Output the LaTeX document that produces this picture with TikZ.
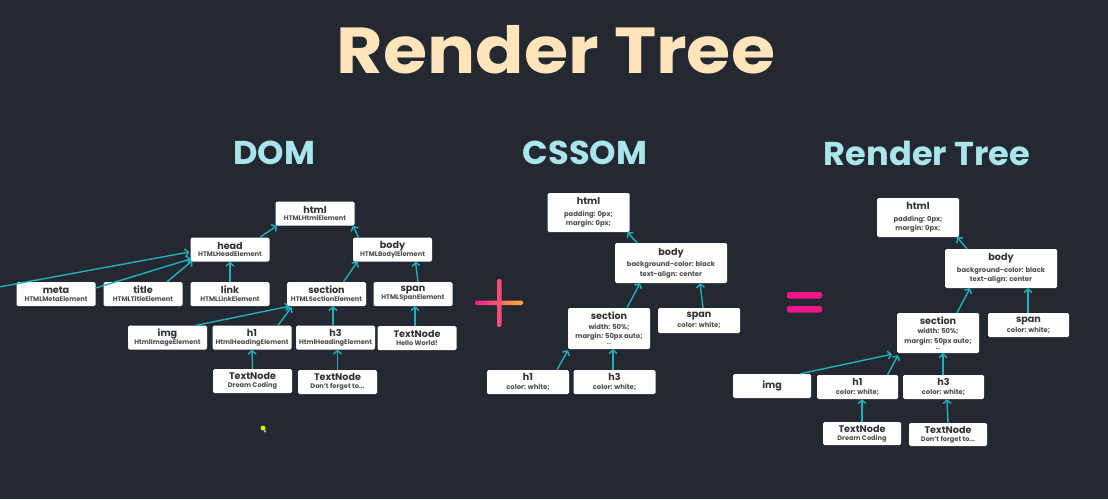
\documentclass[tikz,border=0pt]{standalone}
\usepackage{fontspec}
\setmainfont{Poppins}
\usetikzlibrary{arrows.meta,calc}

\definecolor{bg}{RGB}{36,40,48}
\definecolor{peach}{RGB}{255,228,188}
\definecolor{aqua}{RGB}{168,230,236}
\definecolor{linkteal}{RGB}{30,178,190}
\definecolor{ink}{RGB}{50,50,56}
\definecolor{inksub}{RGB}{75,75,82}
\definecolor{eqpink}{RGB}{240,22,140}
\definecolor{plusmag}{RGB}{245,20,150}
\definecolor{plusorange}{RGB}{255,180,50}
\definecolor{plusred}{RGB}{250,75,120}

% box texts: a heading line and smaller detail lines
\newcommand\boxhead[1]{{\fontsize{9.6}{10}\selectfont #1}}
\newcommand\boxline[1]{{\color{inksub}#1}}

\begin{document}
\begin{tikzpicture}[x=1pt,y=-1pt,
  box/.style={fill=white, rounded corners=1.5pt, inner sep=0pt, align=center,
              text=ink, font=\bfseries},
  dombox/.style={box, minimum width=79pt, minimum height=24pt,
                 font=\bfseries\fontsize{6.6}{7.8}\selectfont},
  cssbox/.style={box, minimum width=82pt,
                 font=\bfseries\fontsize{6.8}{9.6}\selectfont},
  arr/.style={draw=linkteal, line width=1.4pt,
              -{Straight Barb[length=3.4pt,width=8pt]}},
  heading/.style={font=\bfseries\fontsize{33}{35}\selectfont, text=aqua, xscale=1.02},
]
% backdrop and page size
\fill[bg] (0,0) rectangle (1108,499);
\useasboundingbox (0,0) rectangle (1108,499);

% titles
\node[font=\bfseries\fontsize{65}{67}\selectfont, text=peach, xscale=1.1] (title) at (556,50) {Render Tree};
\node[heading] (tdom) at (274,153) {DOM};
\node[heading] (tcss) at (585,153) {CSSOM};
\node[heading] (trt) at (927,153) {Render Tree};

% ---------------- DOM ----------------
\node[dombox] (dhtml) at (315,213.5) {\boxhead{html}\\\boxline{HTMLHtmlElement}};
\node[dombox] (dhead) at (230,249.5) {\boxhead{head}\\\boxline{HTMLHeadElement}};
\node[dombox] (dbody) at (392.5,249.5) {\boxhead{body}\\\boxline{HTMLBodylElement}};
\node[dombox] (dmeta) at (56,294) {\boxhead{meta}\\\boxline{HTMLMetaElement}};
\node[dombox] (dtitle) at (143,294) {\boxhead{title}\\\boxline{HTMLTitleElement}};
\node[dombox] (dlink) at (230,294) {\boxhead{link}\\\boxline{HTMLLinkElement}};
\node[dombox] (dsection) at (326.5,294) {\boxhead{section}\\\boxline{HTMLSectionElement}};
\node[dombox] (dspan) at (413,294) {\boxhead{span}\\\boxline{HTMLSpanElement}};
\node[dombox] (dimg) at (167.5,337.5) {\boxhead{img}\\\boxline{HtmlImageElement}};
\node[dombox] (dh1) at (252,337.5) {\boxhead{h1}\\\boxline{HtmlHeadingElement}};
\node[dombox] (dh3) at (335.5,337.5) {\boxhead{h3}\\\boxline{HtmlHeadingElement}};
\node[dombox] (dthello) at (417,338) {\boxhead{TextNode}\\\boxline{Hello World!}};
\node[dombox] (dtdream) at (252.5,381) {\boxhead{TextNode}\\\boxline{Dream Coding}};
\node[dombox] (dtforget) at (337.5,382) {\boxhead{TextNode}\\\boxline{Don’t forget to...}};
\coordinate (offleft) at (-1,287);

\draw[arr] ([xshift=30pt]dhead.north) -- ([xshift=-38pt]dhtml.south);
\draw[arr] ([xshift=-34pt]dbody.north) -- ([xshift=38pt]dhtml.south);
\draw[arr] (offleft) -- ([xshift=-1pt,yshift=-2.5pt]dhead.west);
\draw[arr] ([yshift=6pt]dmeta.east) -- ([xshift=1pt,yshift=3pt]dhead.south west);
\draw[arr] ([xshift=24pt]dtitle.north) -- ([xshift=2pt,yshift=1pt]dhead.south west);
\draw[arr] (dlink.north) -- (dhead.south);
\draw[arr] ([xshift=17pt]dsection.north) -- ([xshift=-35pt]dbody.south);
\draw[arr] ([xshift=5pt]dspan.north) -- ([xshift=23pt]dbody.south);
\draw[arr] ([xshift=29pt]dimg.north) -- ([xshift=-37pt]dsection.south);
\draw[arr] ([xshift=26pt]dh1.north) -- ([xshift=-35pt,yshift=-1pt]dsection.south);
\draw[arr] ([xshift=-2.5pt]dh3.north) -- ([xshift=6.5pt]dsection.south);
\draw[arr] ([xshift=-2pt]dthello.north) -- ([xshift=2pt]dspan.south);
\draw[arr] (dtdream.north) -- (dh1.south);
\draw[arr] (dtforget.north) -- ([xshift=2pt]dh3.south);

% ---------------- CSSOM ----------------
\node[cssbox, minimum height=39pt] (chtml) at (588.5,212.5)
  {\boxhead{html}\\[2pt]\boxline{padding: 0px;}\\\boxline{margin: 0px;}};
\node[cssbox, minimum width=112pt, minimum height=40pt] (cbody) at (671,263)
  {\boxhead{body}\\[2pt]\boxline{background-color: black}\\\boxline{text-align: center}};
\node[cssbox, minimum height=41pt] (csection) at (609,328.5)
  {\boxhead{section}\\\boxline{width: 50\%;}\\\boxline{margin: 50px auto;}\\[-3.5pt]\boxline{\fontsize{5}{5}\selectfont ...}};
\node[cssbox, minimum height=25pt] (cspan) at (699,320.5)
  {\boxhead{span}\\\boxline{color: white;}};
\node[cssbox, minimum height=24pt] (ch1) at (528,382)
  {\boxhead{h1}\\\boxline{color: white;}};
\node[cssbox, minimum height=24pt] (ch3) at (614.5,382)
  {\boxhead{h3}\\\boxline{color: white;}};

\draw[arr] ([xshift=-34pt]cbody.north) -- ([xshift=39pt]chtml.south);
\draw[arr] ([xshift=18pt]csection.north) -- ([xshift=-31pt]cbody.south);
\draw[arr] ([xshift=4pt]cspan.north) -- ([xshift=29pt]cbody.south);
\draw[arr] ([xshift=29pt]ch1.north) -- ([xshift=-41pt,yshift=-1pt]csection.south);
\draw[arr] ([xshift=-1.5pt]ch3.north) -- ([xshift=4pt]csection.south);

% plus sign
\fill[plusred, rounded corners=2pt] (497,279) rectangle (501.5,327);
\shade[left color=plusmag, right color=plusorange, rounded corners=2pt] (475,300.5) rectangle (523,305);
\fill[plusred, opacity=0.6] (497,300.5) rectangle (501.5,305);

% equals sign
\fill[eqpink, rounded corners=2pt] (787,292) rectangle (822,298.5);
\fill[eqpink, rounded corners=2pt] (787,306) rectangle (822,312.5);

% ---------------- Render Tree ----------------
\node[cssbox, minimum height=39pt] (rhtml) at (918,217.5)
  {\boxhead{html}\\[2pt]\boxline{padding: 0px;}\\\boxline{margin: 0px;}};
\node[cssbox, minimum width=112pt, minimum height=39pt] (rbody) at (1001,268.5)
  {\boxhead{body}\\[2pt]\boxline{background-color: black}\\\boxline{text-align: center}};
\node[cssbox, minimum height=40pt] (rsection) at (938,333)
  {\boxhead{section}\\\boxline{width: 50\%;}\\\boxline{margin: 50px auto;}\\[-3.5pt]\boxline{\fontsize{5}{5}\selectfont ...}};
\node[cssbox, minimum width=81pt, minimum height=24pt] (rspan) at (1028.5,325)
  {\boxhead{span}\\\boxline{color: white;}};
\node[cssbox, minimum width=78pt, minimum height=24pt] (rimg) at (772,386)
  {\boxhead{img}};
\node[cssbox, minimum width=81pt, minimum height=24pt] (rh1) at (857.5,387)
  {\boxhead{h1}\\\boxline{color: white;}};
\node[cssbox, minimum width=81pt, minimum height=24pt] (rh3) at (943.5,387)
  {\boxhead{h3}\\\boxline{color: white;}};
\node[dombox, minimum width=78pt, minimum height=23pt] (rtdream) at (862,433.5)
  {\boxhead{TextNode}\\\boxline{Dream Coding}};
\node[dombox, minimum width=78pt, minimum height=23pt] (rtforget) at (948,434.5)
  {\boxhead{TextNode}\\\boxline{Don’t forget to...}};

\draw[arr] ([xshift=-34pt]rbody.north) -- ([xshift=39pt]rhtml.south);
\draw[arr] ([xshift=19pt]rsection.north) -- ([xshift=-31pt]rbody.south);
\draw[arr] ([xshift=-0.5pt]rspan.north) -- ([xshift=27pt]rbody.south);
\draw[arr] ([xshift=28pt]rimg.north) -- ([xshift=-46pt,yshift=-1pt]rsection.south);
\draw[arr] ([xshift=30pt]rh1.north) -- ([xshift=-40pt,yshift=-2pt]rsection.south);
\draw[arr] ([xshift=-0.5pt]rh3.north) -- ([xshift=5pt]rsection.south);
\draw[arr] (rtdream.north) -- ([xshift=4.5pt]rh1.south);
\draw[arr] (rtforget.north) -- ([xshift=3.5pt]rh3.south);

% pointer marker
\fill[yellow!85!green] (263,428) circle[radius=2.5pt];
\fill[gray!70] (265,431) circle[radius=1.5pt];
\end{tikzpicture}
\end{document}
